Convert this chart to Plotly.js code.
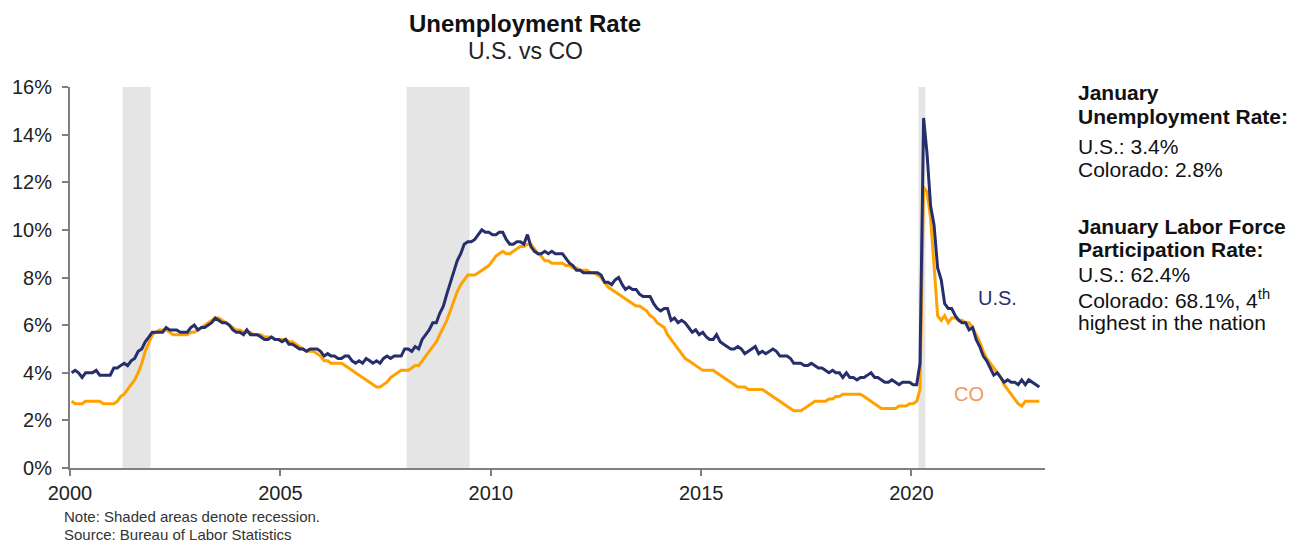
<!DOCTYPE html>
<html>
<head>
<meta charset="utf-8">
<script src="https://cdn.plot.ly/plotly-3.0.1.min.js"></script>
<style>html,body{margin:0;padding:0;background:#fff;}#chart{width:1306px;height:544px;}</style>
</head>
<body>
<div id="chart"></div>
<script>
// Monthly unemployment rate (%), Jan 2000 - Jan 2023
const startYear = 2000;
const usRate = [
4.0,4.1,4.0,3.8,4.0,4.0,4.0,4.1,3.9,3.9,3.9,3.9,
4.2,4.2,4.3,4.4,4.3,4.5,4.6,4.9,5.0,5.3,5.5,5.7,
5.7,5.7,5.7,5.9,5.8,5.8,5.8,5.7,5.7,5.7,5.9,6.0,
5.8,5.9,5.9,6.0,6.1,6.3,6.2,6.1,6.1,6.0,5.8,5.7,
5.7,5.6,5.8,5.6,5.6,5.6,5.5,5.4,5.4,5.5,5.4,5.4,
5.3,5.4,5.2,5.2,5.1,5.0,5.0,4.9,5.0,5.0,5.0,4.9,
4.7,4.8,4.7,4.7,4.6,4.6,4.7,4.7,4.5,4.4,4.5,4.4,
4.6,4.5,4.4,4.5,4.4,4.6,4.7,4.6,4.7,4.7,4.7,5.0,
5.0,4.9,5.1,5.0,5.4,5.6,5.8,6.1,6.1,6.5,6.8,7.3,
7.8,8.3,8.7,9.0,9.4,9.5,9.5,9.6,9.8,10.0,9.9,9.9,
9.8,9.8,9.9,9.9,9.6,9.4,9.4,9.5,9.5,9.4,9.8,9.3,
9.1,9.0,9.0,9.1,9.0,9.1,9.0,9.0,9.0,8.8,8.6,8.5,
8.3,8.3,8.2,8.2,8.2,8.2,8.2,8.1,7.8,7.8,7.7,7.9,
8.0,7.7,7.5,7.6,7.5,7.5,7.3,7.2,7.2,7.2,6.9,6.7,
6.6,6.7,6.7,6.2,6.3,6.1,6.2,6.1,5.9,5.7,5.8,5.6,
5.7,5.5,5.4,5.4,5.6,5.3,5.2,5.1,5.0,5.0,5.1,5.0,
4.8,4.9,5.0,5.1,4.8,4.9,4.8,4.9,5.0,4.9,4.7,4.7,
4.7,4.6,4.4,4.4,4.4,4.3,4.3,4.4,4.3,4.2,4.2,4.1,
4.0,4.1,4.0,4.0,3.8,4.0,3.8,3.8,3.7,3.8,3.8,3.9,
4.0,3.8,3.8,3.7,3.6,3.6,3.7,3.6,3.5,3.6,3.6,3.6,
3.5,3.5,4.4,14.7,13.2,11.0,10.2,8.4,7.9,6.9,6.7,6.7,
6.4,6.2,6.1,6.1,5.8,5.9,5.4,5.1,4.7,4.5,4.2,3.9,
4.0,3.8,3.6,3.7,3.6,3.6,3.5,3.7,3.5,3.7,3.6,3.5,
3.4
];
const coRate = [
2.8,2.7,2.7,2.7,2.8,2.8,2.8,2.8,2.8,2.7,2.7,2.7,
2.7,2.8,3.0,3.1,3.3,3.5,3.7,4.0,4.4,4.9,5.3,5.6,
5.7,5.8,5.8,5.8,5.7,5.6,5.6,5.6,5.6,5.6,5.7,5.7,
5.8,5.9,6.0,6.1,6.2,6.3,6.3,6.2,6.1,6.0,5.9,5.8,
5.8,5.7,5.7,5.7,5.6,5.6,5.6,5.5,5.5,5.5,5.4,5.4,
5.4,5.4,5.3,5.3,5.2,5.1,5.0,4.9,4.9,4.9,4.8,4.7,
4.5,4.5,4.4,4.4,4.4,4.4,4.3,4.2,4.1,4.0,3.9,3.8,
3.7,3.6,3.5,3.4,3.4,3.5,3.6,3.8,3.9,4.0,4.1,4.1,
4.1,4.2,4.3,4.3,4.5,4.7,4.9,5.1,5.3,5.6,5.9,6.2,
6.6,7.0,7.4,7.7,7.9,8.1,8.1,8.1,8.2,8.3,8.4,8.5,
8.7,8.9,9.0,9.1,9.0,9.0,9.1,9.2,9.3,9.3,9.4,9.4,
9.2,9.0,8.9,8.7,8.7,8.6,8.6,8.6,8.6,8.5,8.5,8.4,
8.4,8.3,8.3,8.3,8.2,8.2,8.1,8.0,7.8,7.6,7.5,7.4,
7.3,7.2,7.1,7.0,6.9,6.8,6.8,6.7,6.6,6.4,6.3,6.1,
6.0,5.9,5.6,5.4,5.2,5.0,4.8,4.6,4.5,4.4,4.3,4.2,
4.1,4.1,4.1,4.1,4.0,3.9,3.8,3.7,3.6,3.5,3.4,3.4,
3.4,3.3,3.3,3.3,3.3,3.3,3.2,3.1,3.0,2.9,2.8,2.7,
2.6,2.5,2.4,2.4,2.4,2.5,2.6,2.7,2.8,2.8,2.8,2.8,
2.9,2.9,3.0,3.0,3.1,3.1,3.1,3.1,3.1,3.1,3.0,2.9,
2.8,2.7,2.6,2.5,2.5,2.5,2.5,2.5,2.6,2.6,2.6,2.7,
2.7,2.8,3.3,11.8,11.6,10.5,8.6,6.4,6.2,6.4,6.1,6.3,
6.3,6.2,6.2,6.1,6.1,5.9,5.6,5.3,4.9,4.6,4.4,4.2,
4.0,3.8,3.5,3.3,3.1,2.9,2.7,2.6,2.8,2.8,2.8,2.8,
2.8
];
const recessionStart = ['2001-04-01','2008-01-01','2020-03-01'];
const recessionEnd   = ['2001-12-01','2009-07-01','2020-05-01'];
const tickYears = [2000, 2005, 2010, 2015, 2020];

function pad(n){return n<10?'0'+n:''+n;}
const dates = usRate.map((_, i) => {
  const y = startYear + Math.floor(i/12);
  const m = (i % 12) + 1;
  return y + '-' + pad(m) + '-15';
});

const FONT = 'Liberation Sans, Arial, Helvetica, sans-serif';
const NAVY = '#262f6c';
const ORANGE = '#ffa200';

const traces = [
  {x: dates, y: coRate, type: 'scatter', mode: 'lines', name: 'CO',
   line: {color: ORANGE, width: 3}, hoverinfo: 'x+y'},
  {x: dates, y: usRate, type: 'scatter', mode: 'lines', name: 'U.S.',
   line: {color: NAVY, width: 3}, hoverinfo: 'x+y'}
];

const shapes = recessionStart.map((s, i) => ({
  type: 'rect', xref: 'x', yref: 'paper', x0: s, x1: recessionEnd[i], y0: 0, y1: 1,
  fillcolor: '#e5e5e5', line: {width: 0}, layer: 'below'
}));

// pixel helpers for annotation placement (plot area: x 70..1045, y 87..468)
const L = 70, R = 1045, T = 87, B = 468;
const px = v => (v - L) / (R - L);
const py = v => (B - v) / (B - T);

const sideLines = [
  ['<b>January</b>', 92],
  ['<b>Unemployment Rate:</b>', 116],
  ['U.S.: 3.4%', 146],
  ['Colorado: 2.8%', 169.5],
  ['<b>January Labor Force</b>', 226],
  ['<b>Participation Rate:</b>', 249],
  ['U.S.: 62.4%', 274],
  ['Colorado: 68.1%, 4<sup>th</sup>', 299],
  ['highest in the nation', 322.5]
];

const annotations = [
  {text: '<b>Unemployment Rate</b>', xref: 'paper', yref: 'paper', x: px(525), y: py(23),
   xanchor: 'center', yanchor: 'middle', showarrow: false, font: {family: FONT, size: 24, color: '#111'}},
  {text: 'U.S. vs CO', xref: 'paper', yref: 'paper', x: px(525), y: py(51),
   xanchor: 'center', yanchor: 'middle', showarrow: false, font: {family: FONT, size: 23, color: '#222'}},
  {text: 'U.S.', xref: 'paper', yref: 'paper', x: px(976), y: py(298),
   xanchor: 'left', yanchor: 'middle', showarrow: false, font: {family: FONT, size: 20, color: NAVY}},
  {text: 'CO', xref: 'paper', yref: 'paper', x: px(952), y: py(394),
   xanchor: 'left', yanchor: 'middle', showarrow: false, font: {family: FONT, size: 20, color: '#f4975a'}},
  {text: 'Note: Shaded areas denote recession.', xref: 'paper', yref: 'paper', x: px(62), y: py(516),
   xanchor: 'left', yanchor: 'middle', showarrow: false, font: {family: FONT, size: 15, color: '#333'}},
  {text: 'Source: Bureau of Labor Statistics', xref: 'paper', yref: 'paper', x: px(62), y: py(534),
   xanchor: 'left', yanchor: 'middle', showarrow: false, font: {family: FONT, size: 15, color: '#333'}}
].concat(sideLines.map(([t, y]) => ({
  text: t, xref: 'paper', yref: 'paper', x: px(1076), y: py(y),
  xanchor: 'left', yanchor: 'middle', showarrow: false, align: 'left',
  font: {family: FONT, size: 21, color: '#111'}
})));

const layout = {
  width: 1306, height: 544,
  margin: {l: L, r: 1306 - R, t: T, b: 544 - B, pad: 0},
  paper_bgcolor: '#fff', plot_bgcolor: '#fff',
  showlegend: false,
  font: {family: FONT, color: '#222'},
  xaxis: {
    type: 'date', range: ['2000-01-01', '2023-03-05'],
    tickvals: tickYears.map(y => y + '-01-01'), ticktext: tickYears.map(String),
    ticks: 'outside', ticklen: 6, tickwidth: 2, tickcolor: '#7f7f7f',
    showline: true, linecolor: '#7f7f7f', linewidth: 2,
    showgrid: false, zeroline: false,
    tickfont: {family: FONT, size: 20, color: '#222'}
  },
  yaxis: {
    range: [0, 16], tickmode: 'linear', tick0: 0, dtick: 2, ticksuffix: '%',
    ticks: 'outside', ticklen: 6, tickwidth: 2, tickcolor: '#7f7f7f',
    showline: true, linecolor: '#7f7f7f', linewidth: 2,
    showgrid: false, zeroline: false, ticklabelstandoff: 6,
    tickfont: {family: FONT, size: 20, color: '#222'}
  },
  shapes: shapes,
  annotations: annotations
};

Plotly.newPlot('chart', traces, layout, {displayModeBar: false, staticPlot: true});
</script>
</body>
</html>
